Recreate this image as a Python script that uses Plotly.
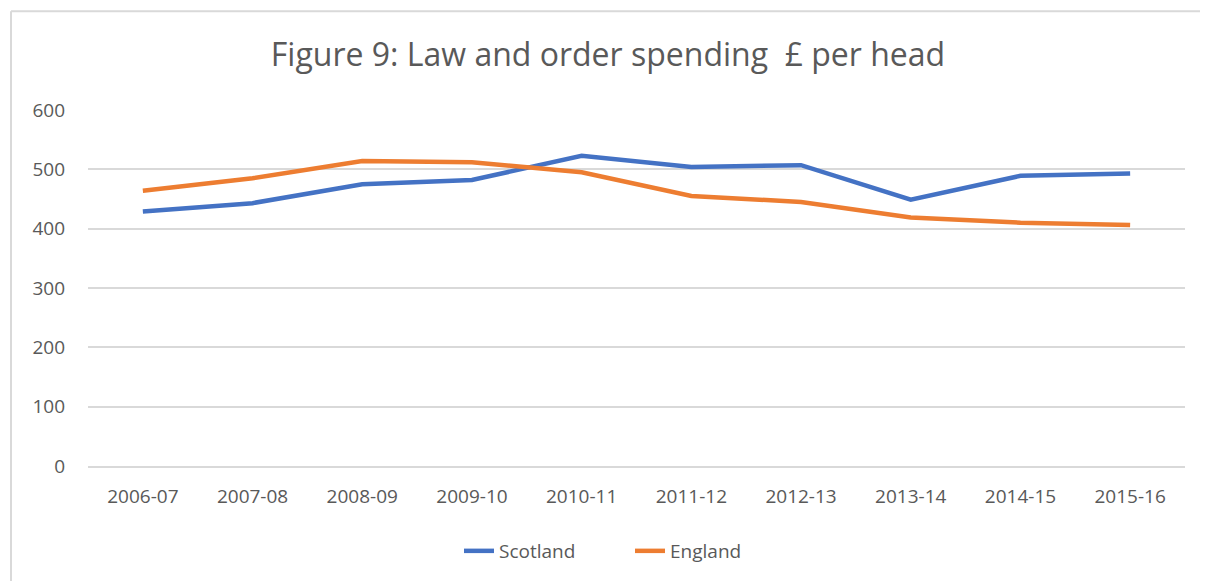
import plotly.graph_objects as go

years = ['2006-07', '2007-08', '2008-09', '2009-10', '2010-11',
         '2011-12', '2012-13', '2013-14', '2014-15', '2015-16']
scotland = [429, 443, 475, 482, 523, 504, 507, 449, 489, 493]
england = [464, 485, 514, 512, 495, 455, 445, 419, 410, 406]

# the page body adds an 8px margin, so the figure sits at (8, 8)
OFF = 8
W, H = 1208 - OFF, 581 - OFF
L, R, T, B = 88 - OFF, 23, 110 - OFF, 114
pw, ph = W - L - R, H - T - B

fig = go.Figure()

fig.add_trace(go.Scatter(
    x=years, y=scotland, name='Scotland', mode='lines',
    line=dict(color='#4472C4', width=4.5)
))
fig.add_trace(go.Scatter(
    x=years, y=england, name='England', mode='lines',
    line=dict(color='#ED7D31', width=4.5)
))

# page pixel -> paper coordinates
def px(x):
    return (x - OFF - L) / pw

def py(y):
    return (H - B - (y - OFF)) / ph

# chart frame: only the top and left edges show in the reference
frame = dict(color='#D9D9D9', width=2)
fig.add_shape(type='line', xref='paper', yref='paper',
              x0=px(11), x1=px(1210), y0=py(11), y1=py(11), line=frame)
fig.add_shape(type='line', xref='paper', yref='paper',
              x0=px(11), x1=px(11), y0=py(11), y1=py(590), line=frame)

fig.update_layout(
    width=W, height=H,
    margin=dict(l=L, r=R, t=T, b=B),
    paper_bgcolor='white', plot_bgcolor='white',
    font=dict(family='Open Sans', color='#595959', size=18),
    title=dict(text='Figure 9: Law and order spending  £ per head',
               x=0.5, xanchor='center', y=1 - (55 - OFF) / H, yanchor='middle',
               font=dict(size=32, color='#595959')),
    xaxis=dict(type='category', range=[-0.5, 9.5], showgrid=False,
               showline=True, linecolor='#D9D9D9', linewidth=1.5,
               ticks='', tickfont=dict(size=19), ticklabelstandoff=12),
    yaxis=dict(range=[0, 600], dtick=100, showgrid=True,
               gridcolor='#D9D9D9', gridwidth=1.5, zeroline=False,
               showline=False, ticks='', tickfont=dict(size=19),
               ticklabelstandoff=22),
    legend=dict(orientation='h', x=px(630), xanchor='center',
                y=py(551), yanchor='middle', font=dict(size=19),
                entrywidth=126, entrywidthmode='pixels'),
)

fig.write_html('out.html')
